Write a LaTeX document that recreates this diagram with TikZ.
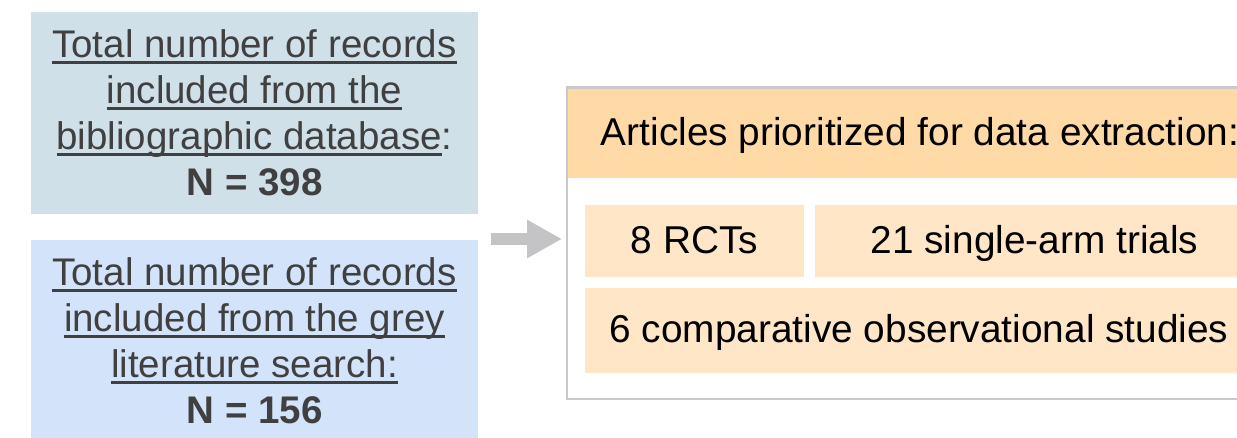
\documentclass[tikz,border=0pt]{standalone}
\usepackage{fontspec}
\setmainfont{Liberation Sans}
\usetikzlibrary{arrows.meta}

\definecolor{dbfill}{RGB}{207,224,232}
\definecolor{greyfill}{RGB}{210,227,250}
\definecolor{hdrfill}{RGB}{255,218,166}
\definecolor{subfill}{RGB}{255,230,199}
\definecolor{txtgrey}{RGB}{64,64,64}
\definecolor{arrowgrey}{RGB}{196,196,198}
\definecolor{framegrey}{RGB}{201,201,203}

% underline a whole line of text with a rule at a fixed depth
\newsavebox\ulinebox
\newcommand{\ulline}[1]{\sbox\ulinebox{#1}\rlap{\rule[-6.3pt]{\wd\ulinebox}{2.6pt}}\usebox\ulinebox}

\begin{document}
\begin{tikzpicture}[x=1pt,y=-1pt,
  leftfont/.style={font=\fontsize{38.5}{46}\selectfont},
  rightfont/.style={font=\fontsize{38.8}{46}\selectfont},
  srcbox/.style={rectangle, inner sep=0pt, minimum width=447pt, align=center,
    text=txtgrey, leftfont},
  framebox/.style={rectangle, draw=framegrey, line width=2.5pt, outer sep=0pt, fill=white},
  hdrbox/.style={rectangle, fill=hdrfill, inner sep=0pt, minimum width=704pt,
    minimum height=89pt, text height=30pt, text depth=6pt, rightfont},
  subbox/.style={rectangle, fill=subfill, inner sep=0pt,
    text height=30pt, text depth=6pt, rightfont},
  flowarrow/.style={draw=arrowgrey, line width=11.5pt,
    -{Triangle[length=35pt,width=36pt]}}
]
\path[use as bounding box, clip] (0,0) rectangle (1237,437);

% sources
\node[srcbox, fill=dbfill, minimum height=202pt] (dbbox) at (254.5,113)
  {\ulline{Total number of records}\\
   \ulline{included from the}\\
   \ulline{bibliographic database}:\\
   \textbf{N = 398}};
\node[srcbox, fill=greyfill, minimum height=203pt] (greybox) at (254.5,341)
  {\ulline{Total number of records}\\
   \ulline{included from the grey}\\
   \ulline{literature search:}\\
   \textbf{N = 156}};

% prioritized articles
\node[framebox, minimum width=708.2pt, minimum height=311.7pt] (frame) at (921,243.15) {};
\node[hdrbox] (hdr) at (920,133.5) {Articles prioritized for data extraction:};
\node[subbox, minimum width=219pt, minimum height=72pt] (rct) at (694.5,241) {8 RCTs};
\node[subbox, minimum width=439pt, minimum height=72pt] (single) at (1034.5,241) {21 single-arm trials};
\node[subbox, minimum width=668pt, minimum height=85pt] (obs) at (919,330.5) {6 comparative observational studies};

% flow arrow
\coordinate (arrowstart) at (491,239);
\draw[flowarrow, shorten >=4.8pt] (arrowstart) -- (arrowstart -| frame.west);
\end{tikzpicture}
\end{document}
